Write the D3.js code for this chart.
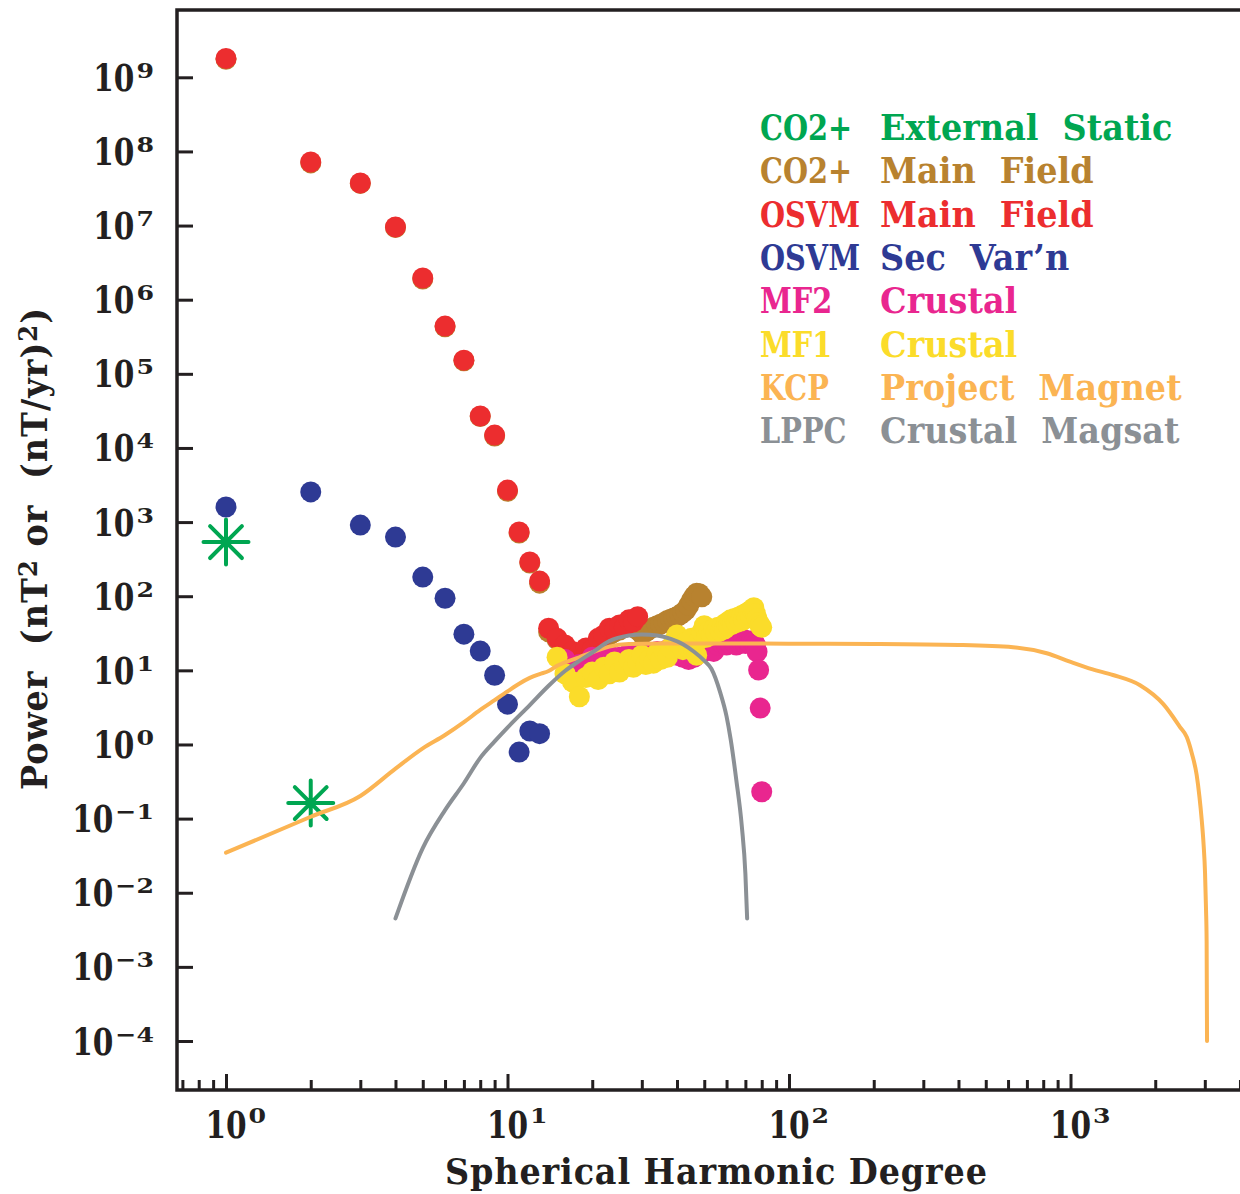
<!DOCTYPE html>
<html>
<head>
<meta charset="utf-8">
<script src="https://cdn.jsdelivr.net/npm/d3@7"></script>
<style>
  html, body { margin: 0; padding: 0; background: #fff; }
  svg { display: block; }
  text { font-family: "DejaVu Serif", "Liberation Serif", serif; font-weight: bold; white-space: pre; }
</style>
</head>
<body>
<svg id="chart" width="1240" height="1194"></svg>
<script>
// ---------------- data ----------------
// Spherical harmonic power spectra of the geomagnetic field models.

// CO2+ External Static (degrees 1, 2)
const extDegrees = [1, 2];
const extPower = [537, 0.162];

// CO2+ Main Field, starting at degree 1
const co2StartDegree = 1;
const co2Power = [1.75e9, 7.0e7, 3.7e7, 9.4e6, 1.9e6, 4.3e5, 1.5e5, 2.65e4, 1.45e4, 2.6e3,
  710, 280, 150, 33, 26, 21, 17, 16, 19, 20,
  24, 28, 30, 33, 35, 38, 40, 40, 35, 31,
  33, 36, 38, 40, 42, 44, 47, 49, 51, 53,
  56, 60, 65, 75, 88, 100, 110, 108, 98];

// OSVM Main Field, starting at degree 1
const osvmStartDegree = 1;
const osvmPower = [1.8e9, 7.2e7, 3.75e7, 9.6e6, 1.96e6, 4.4e5, 1.53e5, 2.7e4, 1.49e4, 2.7e3,
  735, 289, 160, 37, 27, 22, 18, 17, 20, 19,
  27, 30, 37, 35, 41, 38, 48, 45, 53];

// OSVM Secular Variation, starting at degree 1
const svStartDegree = 1;
const svPower = [1600, 2550, 912, 628, 181, 94, 30.8, 18.2, 8.6, 3.5, 0.79, 1.52, 1.4];

// MF2 Crustal, starting at degree 16
const mf2StartDegree = 16;
const mf2Power = [14, 11, 12, 10, 15, 12, 13, 16, 14, 15,
  13, 17, 15, 16, 14, 17, 15, 16, 18, 16,
  17, 19, 17, 18, 16, 19, 15, 17, 14, 16,
  15, 18, 17, 19, 18, 20, 19, 21, 18, 23,
  22, 24, 23, 25, 22, 24, 23, 25, 24, 22,
  25, 23, 24, 26, 23, 25, 24, 23, 25, 24,
  22, 17.8, 10.1, 3.1, 0.23];

// MF1 Crustal, starting at degree 15
const mf1StartDegree = 15;
const mf1Power = [15, 9, 7, 4.4, 8, 9.5, 7.5, 11, 9, 13,
  9.5, 12, 14, 11, 13, 16, 12, 14, 12.5, 17,
  14, 18, 15, 20, 25, 30, 22, 19, 24, 20,
  27, 18, 16, 26, 33, 40, 28, 34, 30, 36,
  32, 38, 34, 40, 36, 44, 40, 48, 42, 50,
  44, 52, 46, 55, 48, 58, 52, 62, 55, 66,
  70, 58, 50, 44, 40, 38];

// KCP Project Magnet spectrum
const kcpDegrees = [1, 2, 3, 4, 5, 6, 7, 8, 9, 10,
  11, 12, 13, 14, 15, 16, 18, 20, 23, 27,
  35, 60, 100, 200, 400, 625, 823, 995, 1190, 1415,
  1766, 2137, 2449, 2588, 2700, 2806, 2870, 2925, 2970, 3005,
  3030, 3045, 3055];
const kcpPower = [0.0347, 0.106, 0.202, 0.472, 0.887, 1.34, 2.0, 2.92, 3.96, 5.2,
  6.6, 7.9, 8.9, 9.8, 11.5, 12.8, 15, 17.5, 20.9, 22.6,
  23, 23, 22.9, 22.7, 22.0, 20.5, 17, 13.1, 10.4, 8.65,
  6.3, 3.5, 1.72, 1.26, 0.75, 0.39, 0.2, 0.096, 0.045, 0.019,
  0.006, 0.0022, 0.0001];

// LPPC Crustal Magsat spectrum
const lppcDegrees = [4, 5, 6, 7, 8, 9, 10, 12, 14, 16,
  18, 20, 23, 27, 30, 34, 38, 42, 46, 50,
  53, 57, 60, 62, 65, 68, 70, 71];
const lppcPower = [0.0045, 0.04, 0.13, 0.30, 0.66, 1.1, 1.69, 3.4, 6.2, 9.8,
  13.4, 17.4, 24.8, 29.5, 30.5, 29.5, 26.5, 22.5, 17.8, 13.5,
  10.5, 5.0, 2.4, 1.2, 0.33, 0.078, 0.018, 0.0045];

// Axis ticks
const xMajorExponents = [0, 1, 2, 3];
const xMinorTicks = [0.7, 0.8, 0.9, 2, 3, 4, 5, 6, 7, 8, 9,
  20, 30, 40, 50, 60, 70, 80, 90,
  200, 300, 400, 500, 600, 700, 800, 900, 2000, 3000, 4000];
const yMajorExponents = [-4, -3, -2, -1, 0, 1, 2, 3, 4, 5, 6, 7, 8, 9];

// Legend entries
const legendNames = ["CO2+", "CO2+", "OSVM", "OSVM", "MF2", "MF1", "KCP", "LPPC"];
const legendWords = [["External", "Static"], ["Main", "Field"], ["Main", "Field"], ["Sec", "Var\u2019n"],
  ["Crustal", ""], ["Crustal", ""], ["Project", "Magnet"], ["Crustal", "Magsat"]];
const legendColors = ["#00a651", "#b8822f", "#ec2d2f", "#2e3a94", "#e9268f", "#fbdc2a", "#fbb453", "#8b9095"];

// ---------------- chart ----------------
const INK = "#231f20";
const FS = 36;           // main font size
const SX = 0.93;         // horizontal compression for words
const SXN = 0.8;         // horizontal compression for legend model names
const SXD = 0.8;         // horizontal compression for "10" numerals
const EXP_FS = 21;       // exponent font size
const SXE = 1.2;         // horizontal stretch for exponents
const svg = d3.select("#chart");

const frame = { left: 177, right: 1240, top: 10, bottom: 1090 };

const x = d3.scaleLog().domain([1, 1000]).range([226, 1070.5]);
const y = d3.scaleLog().domain([1e-4, 1e9]).range([1041, 77.3]);

const pts = (start, arr) => arr.map((v, i) => ({ n: start + i, v }));
const pairs = (ns, vs) => ns.map((n, i) => ({ n, v: vs[i] }));

// axes: inward ticks on left and bottom
const gx = svg.append("g").attr("transform", `translate(0,${frame.bottom})`);
gx.call(d3.axisBottom(x).tickValues(xMinorTicks).tickSize(-10).tickSizeOuter(0).tickFormat(""));
gx.call(g => g.select(".domain").remove());
const gx2 = svg.append("g").attr("transform", `translate(0,${frame.bottom})`);
gx2.call(d3.axisBottom(x).tickValues(xMajorExponents.map(e => 10 ** e)).tickSize(-16).tickSizeOuter(0).tickFormat(""));
gx2.call(g => g.select(".domain").remove());

const gy = svg.append("g").attr("transform", `translate(${frame.left},0)`);
gy.call(d3.axisLeft(y).tickValues(yMajorExponents.map(e => 10 ** e)).tickSize(-16).tickSizeOuter(0).tickFormat(""));
gy.call(g => g.select(".domain").remove());

svg.selectAll(".tick line").attr("stroke", INK).attr("stroke-width", 3);

// frame lines (left, bottom, top)
svg.append("path")
  .attr("d", `M${frame.right},${frame.top} H${frame.left} V${frame.bottom} H${frame.right}`)
  .attr("fill", "none").attr("stroke", INK).attr("stroke-width", 3.5);

// tick labels: "10" plus a raised exponent
const expText = e => (e < 0 ? "\u2212" + (-e) : String(e));

function powerLabel(g, e, xPos, baseline, raise, anchor) {
  const base = g.append("text").attr("fill", INK).attr("font-size", FS + 1).text("10");
  const ex = g.append("text").attr("fill", INK).attr("font-size", EXP_FS).text(expText(e));
  const wBase = base.node().getComputedTextLength() * SXD;
  const wExp = ex.node().getComputedTextLength() * SXE;
  let x0;
  if (anchor === "end") x0 = xPos - wExp - 2 - wBase;     // right-aligned block
  else x0 = xPos - wBase / 2;                             // "10" centred on tick
  base.attr("transform", `translate(${x0},${baseline}) scale(${SXD},1)`);
  ex.attr("transform", `translate(${x0 + wBase + 2},${baseline - raise}) scale(${SXE},1)`);
}

const gyLab = svg.append("g");
yMajorExponents.forEach(e => powerLabel(gyLab, e, 154, y(10 ** e) + 13.5, 13, "end"));
const gxLab = svg.append("g");
xMajorExponents.forEach(e => powerLabel(gxLab, e, x(10 ** e), 1138, 15, "middle"));

// axis titles
svg.append("text")
  .attr("transform", `translate(716,1184) scale(${SX},1)`)
  .attr("text-anchor", "middle").attr("fill", INK).attr("font-size", FS)
  .attr("textLength", 542 / SX).attr("lengthAdjust", "spacing")
  .text("Spherical Harmonic Degree");

const yTitle = svg.append("text")
  .attr("transform", `translate(47,549) rotate(-90) scale(${SX},1)`)
  .attr("text-anchor", "middle").attr("fill", INK).attr("font-size", FS)
  .attr("textLength", 482 / SX).attr("lengthAdjust", "spacing");
yTitle.append("tspan").text("Power  (nT");
yTitle.append("tspan").attr("dy", -10).attr("font-size", 26).text("2");
yTitle.append("tspan").attr("dy", 10).text(" or  (nT/yr)");
yTitle.append("tspan").attr("dy", -10).attr("font-size", 26).text("2");
yTitle.append("tspan").attr("dy", 10).text(")");

// ---------------- marks ----------------
const R = 10.5;
function dots(data, color) {
  svg.append("g").selectAll("circle").data(data).join("circle")
    .attr("cx", d => x(d.n)).attr("cy", d => y(d.v)).attr("r", R).attr("fill", color);
}

// eight-armed asterisk marker
const asterisk8 = {
  draw(ctx, size) {
    const r = Math.sqrt(size) / 2;
    const d = r * Math.SQRT1_2;
    ctx.moveTo(0, -r); ctx.lineTo(0, r);
    ctx.moveTo(-r, 0); ctx.lineTo(r, 0);
    ctx.moveTo(-d, -d); ctx.lineTo(d, d);
    ctx.moveTo(-d, d); ctx.lineTo(d, -d);
  }
};
svg.append("g").selectAll("path").data(pairs(extDegrees, extPower)).join("path")
  .attr("transform", d => `translate(${x(d.n)},${y(d.v)})`)
  .attr("d", d3.symbol().type(asterisk8).size(45 * 45))
  .attr("fill", "none").attr("stroke", legendColors[0]).attr("stroke-width", 4).attr("stroke-linecap", "round");

dots(pts(co2StartDegree, co2Power), legendColors[1]);
dots(pts(osvmStartDegree, osvmPower), legendColors[2]);
dots(pts(svStartDegree, svPower), legendColors[3]);
dots(pts(mf2StartDegree, mf2Power), legendColors[4]);
dots(pts(mf1StartDegree, mf1Power), legendColors[5]);

const kcpLine = d3.line().x(d => x(d.n)).y(d => y(d.v)).curve(d3.curveMonotoneX);
svg.append("path").datum(pairs(kcpDegrees, kcpPower))
  .attr("d", kcpLine).attr("fill", "none").attr("stroke", legendColors[6])
  .attr("stroke-width", 4).attr("stroke-linejoin", "round").attr("stroke-linecap", "round");
const lppcLine = d3.line().x(d => x(d.n)).y(d => y(d.v)).curve(d3.curveMonotoneX);
svg.append("path").datum(pairs(lppcDegrees, lppcPower))
  .attr("d", lppcLine).attr("fill", "none").attr("stroke", legendColors[7])
  .attr("stroke-width", 4).attr("stroke-linejoin", "round").attr("stroke-linecap", "round");

// ---------------- legend ----------------
const legend = svg.append("g");
legendNames.forEach((name, i) => {
  const yy = 140 + i * 43.3;
  const col = legendColors[i];
  legend.append("text")
    .attr("transform", `translate(760,${yy}) scale(${SXN},1)`)
    .attr("fill", col).attr("font-size", FS).text(name);
  const w1 = legend.append("text")
    .attr("transform", `translate(880,${yy}) scale(${SX},1)`)
    .attr("fill", col).attr("font-size", FS).text(legendWords[i][0]);
  if (legendWords[i][1]) {
    const x3 = 880 + w1.node().getComputedTextLength() * SX + 24;
    legend.append("text")
      .attr("transform", `translate(${x3},${yy}) scale(${SX},1)`)
      .attr("fill", col).attr("font-size", FS).text(legendWords[i][1]);
  }
});
</script>
</body>
</html>
